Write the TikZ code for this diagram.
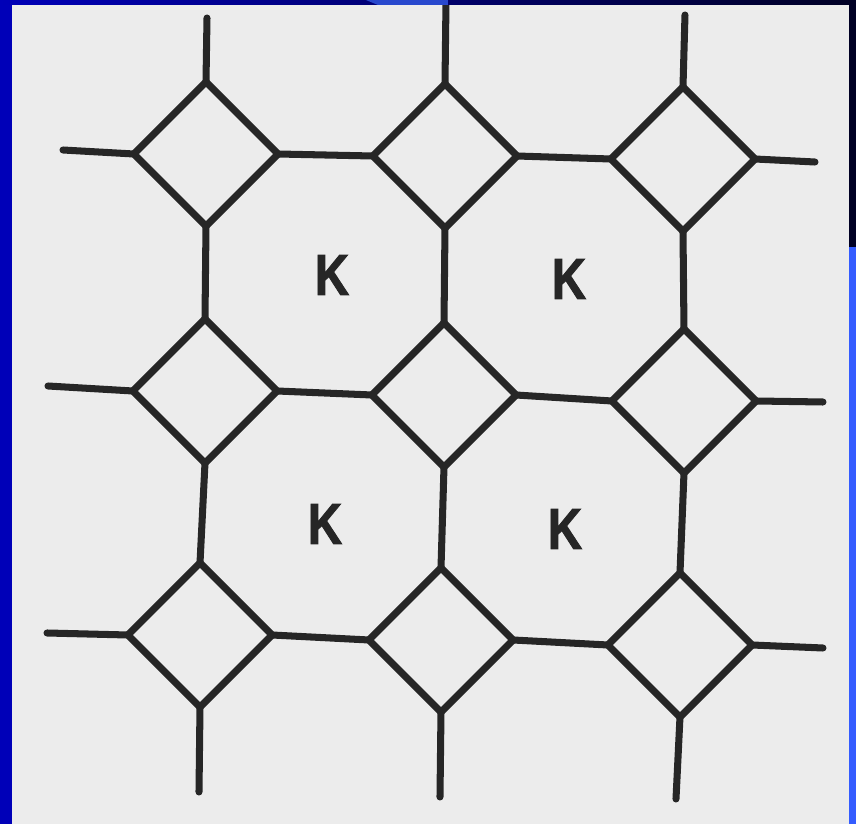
\documentclass[tikz,border=0pt]{standalone}
\usepackage{fontspec}
\newfontfamily\kfont[FakeStretch=0.82, BoldFeatures={FakeBold=1.6}]{Liberation Sans}
\usepackage{tikz}
\usetikzlibrary{shapes.geometric, positioning}
\definecolor{paper}{RGB}{236,236,236}
\definecolor{inkgray}{RGB}{38,38,38}
\definecolor{frameblue}{RGB}{0,0,184}
\definecolor{wedgeblue}{RGB}{40,72,205}
\definecolor{brightblue}{RGB}{52,92,255}
\definecolor{nightblue}{RGB}{0,0,36}

\begin{document}
\begin{tikzpicture}[
    x=0.01cm, y=-0.01cm,
    sq/.style={diamond, draw=inkgray, line width=2pt, minimum size=1.44cm,
               inner sep=0pt, outer sep=0pt},
    bond/.style={draw=inkgray, line width=2pt, line cap=round},
    lbl/.style={font=\kfont\bfseries\fontsize{16.5}{16.5}\selectfont,
                text=inkgray, inner sep=0pt}
  ]
  \useasboundingbox (0,0) rectangle (856,824);
  \fill[paper] (0,0) rectangle (856,824);

  % the small squares
  \node[sq] (tl) at (206,154) {};
  \node[sq] (tm) at (445,156) {};
  \node[sq] (tr) at (683,159) {};
  \node[sq] (ml) at (205,391) {};
  \node[sq] (mm) at (444,395) {};
  \node[sq] (mr) at (684,401) {};
  \node[sq] (bl) at (200,635) {};
  \node[sq] (bm) at (441,640) {};
  \node[sq] (br) at (680,645) {};

  % bonds between squares
  \draw[bond] (tl.east) -- (tm.west);
  \draw[bond] (tm.east) -- (tr.west);
  \draw[bond] (ml.east) -- (mm.west);
  \draw[bond] (mm.east) -- (mr.west);
  \draw[bond] (bl.east) -- (bm.west);
  \draw[bond] (bm.east) -- (br.west);
  \draw[bond] (tl.south) -- (ml.north);
  \draw[bond] (ml.south) -- (bl.north);
  \draw[bond] (tm.south) -- (mm.north);
  \draw[bond] (mm.south) -- (bm.north);
  \draw[bond] (tr.south) -- (mr.north);
  \draw[bond] (mr.south) -- (br.north);

  % loose ends at the border
  \coordinate (tlup) at (207,18);
  \coordinate (tmup) at (446,2);
  \coordinate (trup) at (685,15);
  \coordinate (tlout) at (63,150);
  \coordinate (mlout) at (48,386);
  \coordinate (blout) at (47,633);
  \coordinate (trout) at (815,162);
  \coordinate (mrout) at (823,402);
  \coordinate (brout) at (823,648);
  \coordinate (bldown) at (199,792);
  \coordinate (bmdown) at (440,797);
  \coordinate (brdown) at (676,799);
  \draw[bond] (tl.north) -- (tlup);
  \draw[bond] (tm.north) -- (tmup);
  \draw[bond] (tr.north) -- (trup);
  \draw[bond] (tl.west) -- (tlout);
  \draw[bond] (ml.west) -- (mlout);
  \draw[bond] (bl.west) -- (blout);
  \draw[bond] (tr.east) -- (trout);
  \draw[bond] (mr.east) -- (mrout);
  \draw[bond] (br.east) -- (brout);
  \draw[bond] (bl.south) -- (bldown);
  \draw[bond] (bm.south) -- (bmdown);
  \draw[bond] (br.south) -- (brdown);

  % octagon labels
  \node[lbl] (k1) at (332,275) {K};
  \node[lbl] (k2) at (569,279) {K};
  \node[lbl] (k3) at (325,524) {K};
  \node[lbl] (k4) at (565,529) {K};

  % slide frame
  \fill[frameblue] (0,0) rectangle (12,824);
  \shade[left color=frameblue, right color=nightblue] (0,0) rectangle (856,5);
  \fill[wedgeblue] (366,0) -- (448,0) -- (448,5) -- (378,5) -- cycle;
  \fill[nightblue] (849,0) rectangle (856,247);
  \fill[brightblue] (849,247) rectangle (856,824);
\end{tikzpicture}
\end{document}
